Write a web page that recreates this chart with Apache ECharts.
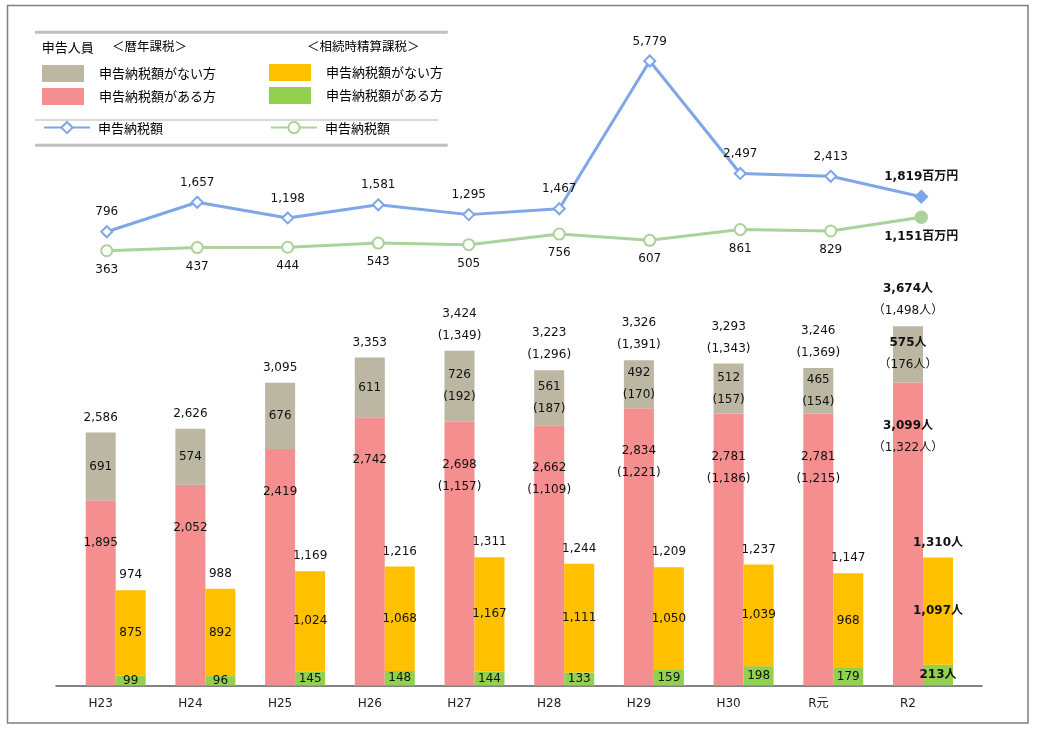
<!DOCTYPE html>
<html>
<head>
<meta charset="utf-8">
<script src="https://cdn.jsdelivr.net/npm/echarts@6/dist/echarts.min.js"></script>
<style>
html,body{margin:0;padding:0;background:#fff;}
#chart{width:1041px;height:733px;}
</style>
</head>
<body>
<div id="chart"></div>
<script>
const categories = ['H23','H24','H25','H26','H27','H28','H29','H30','R元','R2'];
// 暦年課税
const rekiNoTax = [691,574,676,611,726,561,492,512,465,575];
const rekiTax = [1895,2052,2419,2742,2698,2662,2834,2781,2781,3099];
const rekiTotal = [2586,2626,3095,3353,3424,3223,3326,3293,3246,3674];
const rekiNoTaxSub = [null,null,null,null,192,187,170,157,154,176];
const rekiTaxSub = [null,null,null,null,1157,1109,1221,1186,1215,1322];
const rekiTotalSub = [null,null,null,null,1349,1296,1391,1343,1369,1498];
// 相続時精算課税
const seisanNoTax = [875,892,1024,1068,1167,1111,1050,1039,968,1097];
const seisanTax = [99,96,145,148,144,133,159,198,179,213];
const seisanTotal = [974,988,1169,1216,1311,1244,1209,1237,1147,1310];
// 申告納税額（百万円）
const rekiAmount = [796,1657,1198,1581,1295,1467,5779,2497,2413,1819];
const seisanAmount = [363,437,444,543,505,756,607,861,829,1151];

const LAST = categories.length - 1;
const NUM_FONT = '"DejaVu Sans", "Noto Sans CJK JP", sans-serif';
const JP_FONT = '"Noto Sans CJK JP", sans-serif';
const fmt = v => v.toLocaleString('en-US');
const rich = {
  n: {fontSize: 12, fontFamily: NUM_FONT, color: '#111', lineHeight: 22},
  b: {fontSize: 12, fontFamily: NUM_FONT, color: '#111', fontWeight: 'bold', lineHeight: 22}
};
function label2(i, main, sub) {
  const last = i === LAST;
  let s = last ? '{b|' + fmt(main[i]) + '人}' : '{n|' + fmt(main[i]) + '}';
  if (sub && sub[i] != null) s += '\n' + (last ? '{n|（' + fmt(sub[i]) + '人）}' : '{n|(' + fmt(sub[i]) + ')}');
  return s;
}
const zeros = categories.map(() => 0);

const C = {gray:'#BBB7A3', pink:'#F58F8F', yellow:'#FFC000', green:'#92D050', lineBlue:'#7EA6E8', lineGreen:'#A9D39B'};

const chart = echarts.init(document.getElementById('chart'), null, {renderer:'canvas'});

const legendRich = {t: {fontSize: 13, fontFamily: JP_FONT, color: '#000', padding: [0,0,0,10]}};
const legendRichLine = {t: {fontSize: 13, fontFamily: JP_FONT, color: '#000', padding: [0,0,0,3]}};
const legFmt = n => '{t|' + n.split(':')[1] + '}';

const option = {
  backgroundColor: '#fff',
  animation: false,
  textStyle: {fontFamily: NUM_FONT},
  legend: [
    {data:['暦年:申告納税額がない方','暦年:申告納税額がある方'], orient:'vertical', left:42, top:65, padding:0,
     itemWidth:42, itemHeight:17, itemGap:6, icon:'rect', selectedMode:false, formatter:legFmt, textStyle:{rich:legendRich}},
    {data:['精算:申告納税額がない方','精算:申告納税額がある方'], orient:'vertical', left:269, top:64, padding:0,
     itemWidth:42, itemHeight:17, itemGap:6, icon:'rect', selectedMode:false, formatter:legFmt, textStyle:{rich:legendRich}},
    {data:['暦年:申告納税額'], left:43, top:121, padding:0, itemWidth:46, itemHeight:14, selectedMode:false, formatter:legFmt, textStyle:{rich:legendRichLine}},
    {data:['精算:申告納税額'], left:270, top:121, padding:0, itemWidth:46, itemHeight:14, selectedMode:false, formatter:legFmt, textStyle:{rich:legendRichLine}}
  ],
  grid: [
    {left:61.5, width:905, top:53.4, height:205.6},
    {left:61.5, width:905, top:202.5, height:63.6},
    {left:70.85, width:897, top:294.3, height:391.2},
    {left:56, width:926, top:294.3, height:391.2}
  ],
  xAxis: [
    {gridIndex:0, type:'category', data:categories, show:false},
    {gridIndex:1, type:'category', data:categories, show:false},
    {gridIndex:2, type:'category', data:categories, axisLine:{show:false}, axisTick:{show:false},
     axisLabel:{fontSize:12, fontFamily:NUM_FONT, color:'#222', margin:12, padding:[0,30,0,0]}},
    {gridIndex:3, type:'category', data:categories, axisLine:{show:true, lineStyle:{color:'#595959', width:1.5}}, axisTick:{show:false}, axisLabel:{show:false}}
  ],
  yAxis: [
    {gridIndex:0, type:'value', min:0, max:6000, show:false},
    {gridIndex:1, type:'value', min:0, max:1500, show:false},
    {gridIndex:2, type:'value', min:0, max:4000, show:false},
    {gridIndex:3, type:'value', min:0, max:1, show:false}
  ],
  graphic: [
    {type:'rect', silent:true, shape:{x:7.5, y:5.5, width:1020.5, height:717.5}, style:{fill:'none', stroke:'#7f7f7f', lineWidth:1.5}},
    {type:'line', silent:true, shape:{x1:35, y1:32.3, x2:447.7, y2:32.3}, style:{stroke:'#c0c0c0', lineWidth:3}},
    {type:'line', silent:true, shape:{x1:35, y1:120, x2:438, y2:120}, style:{stroke:'#d9d9d9', lineWidth:2}},
    {type:'line', silent:true, shape:{x1:35, y1:145.3, x2:447.7, y2:145.3}, style:{stroke:'#c0c0c0', lineWidth:3}},
    {type:'text', silent:true, x:41.7, y:46.7, style:{text:'申告人員', font:'13px ' + JP_FONT, fill:'#000', verticalAlign:'middle', textVerticalAlign:'middle'}},
    {type:'text', silent:true, x:112, y:46.7, style:{text:'＜暦年課税＞', font:'12.5px ' + JP_FONT, fill:'#000', verticalAlign:'middle', textVerticalAlign:'middle'}},
    {type:'text', silent:true, x:307, y:46.7, style:{text:'＜相続時精算課税＞', font:'12.5px ' + JP_FONT, fill:'#000', verticalAlign:'middle', textVerticalAlign:'middle'}}
  ],
  series: [
    {name:'暦年:申告納税額', type:'line', xAxisIndex:0, yAxisIndex:0,
     data: rekiAmount.map((v,i) => i === LAST ? {value:v, symbol:'diamond', itemStyle:{color:C.lineBlue, borderColor:C.lineBlue}} : v),
     symbol:'emptyDiamond', symbolSize:11, lineStyle:{color:C.lineBlue, width:3}, itemStyle:{color:C.lineBlue, borderWidth:2.5},
     label:{show:true, position:'top', distance:2, rich:rich,
       formatter: p => p.dataIndex === LAST ? '{b|' + fmt(p.value) + '百万円}' : '{n|' + fmt(p.value) + '}'}},
    {name:'精算:申告納税額', type:'line', xAxisIndex:1, yAxisIndex:1,
     data: seisanAmount.map((v,i) => i === LAST ? {value:v, symbol:'circle', itemStyle:{color:C.lineGreen, borderColor:C.lineGreen}} : v),
     symbol:'emptyCircle', symbolSize:11, lineStyle:{color:C.lineGreen, width:3}, itemStyle:{color:C.lineGreen, borderWidth:2.5},
     label:{show:true, position:'bottom', distance:1.5, rich:rich,
       formatter: p => p.dataIndex === LAST ? '{b|' + fmt(p.value) + '百万円}' : '{n|' + fmt(p.value) + '}'}},

    {name:'暦年:申告納税額がある方', type:'bar', xAxisIndex:2, yAxisIndex:2, stack:'reki', data:rekiTax,
     barWidth:30, barGap:'0%', itemStyle:{color:C.pink},
     label:{show:true, position:'insideTop', distance:32, rich:rich, formatter: p => label2(p.dataIndex, rekiTax, rekiTaxSub)}},
    {name:'暦年:申告納税額がない方', type:'bar', xAxisIndex:2, yAxisIndex:2, stack:'reki', data:rekiNoTax,
     barWidth:30, itemStyle:{color:C.gray},
     label:{show:true, position:'inside', rich:rich, formatter: p => label2(p.dataIndex, rekiNoTax, rekiNoTaxSub)}},
    {name:'暦年:計', type:'bar', xAxisIndex:2, yAxisIndex:2, stack:'reki', data:zeros,
     barWidth:30, itemStyle:{color:'transparent'},
     label:{show:true, position:'top', distance:4, rich:rich, formatter: p => label2(p.dataIndex, rekiTotal, rekiTotalSub)}},

    {name:'精算:申告納税額がある方', type:'bar', xAxisIndex:2, yAxisIndex:2, stack:'seisan', data:seisanTax,
     barWidth:30, itemStyle:{color:C.green},
     label:{show:true, position:'inside', rich:rich, formatter: p => label2(p.dataIndex, seisanTax, null)}},
    {name:'精算:申告納税額がない方', type:'bar', xAxisIndex:2, yAxisIndex:2, stack:'seisan', data:seisanNoTax,
     barWidth:30, itemStyle:{color:C.yellow},
     label:{show:true, position:'inside', rich:rich, formatter: p => label2(p.dataIndex, seisanNoTax, null)}},
    {name:'精算:計', type:'bar', xAxisIndex:2, yAxisIndex:2, stack:'seisan', data:zeros,
     barWidth:30, itemStyle:{color:'transparent'},
     label:{show:true, position:'top', distance:4, rich:rich, formatter: p => label2(p.dataIndex, seisanTotal, null)}}
  ]
};
chart.setOption(option);
</script>
</body>
</html>
